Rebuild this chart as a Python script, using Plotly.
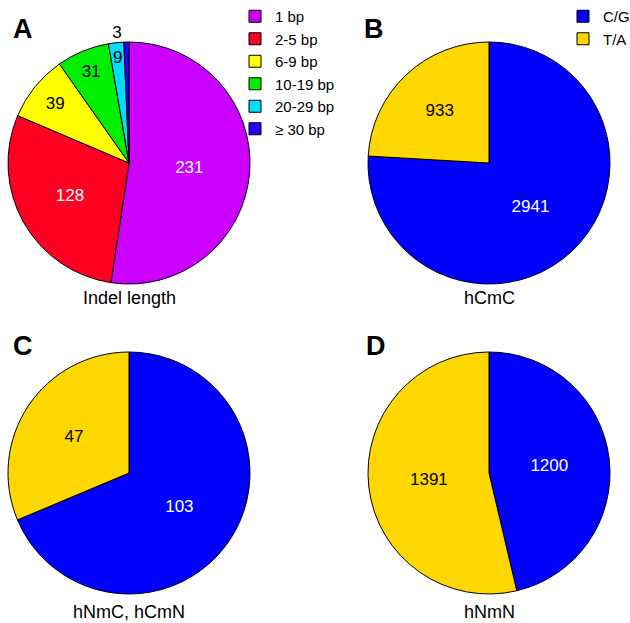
import math
import plotly.graph_objects as go

# Data
len_labels = ["1 bp", "2-5 bp", "6-9 bp", "10-19 bp", "20-29 bp", "\u2265 30 bp"]
len_values = [231, 128, 39, 31, 9, 3]
len_colors = ["#CC00FF", "#FF0022", "#FFFF00", "#00EE00", "#00DDFF", "#2200FF"]
len_textcolors = ["white", "white", "black", "black", "black", "black"]

base_labels = ["C/G", "T/A"]
base_colors = ["#0000FF", "#FFD700"]
base_textcolors = ["white", "black"]
hCmC_values = [2941, 933]
hNmC_values = [103, 47]
hNmN_values = [1200, 1391]

W, H = 630, 623
FONT = "Liberation Sans, Arial, sans-serif"
NUM_SIZE = 17
LEG_SIZE = 15

def dom_x(l, r):
    return [l / W, r / W]

def dom_y(t, b):
    return [1 - b / H, 1 - t / H]

fig = go.Figure()

# Panel A: the narrow "9" slice gets its label placed via annotation (from data angle)
small_idx = 4
tmpl_a = ["%{value}"] * len(len_values)
tmpl_a[small_idx] = ""
tpos_a = ["inside"] * len(len_values)
tpos_a[-1] = "outside"

A_box = (8, 250, 42, 284)
fig.add_trace(go.Pie(
    labels=len_labels, values=len_values, sort=False, direction="clockwise", rotation=0,
    marker=dict(colors=len_colors, line=dict(color="black", width=1)),
    texttemplate=tmpl_a, textposition=tpos_a,
    insidetextorientation="horizontal",
    textfont=dict(color=len_textcolors, size=NUM_SIZE, family=FONT),
    outsidetextfont=dict(color="black", size=NUM_SIZE, family=FONT),
    domain=dict(x=dom_x(A_box[0], A_box[1]), y=dom_y(A_box[2], A_box[3])),
    legend="legend", showlegend=True, hoverinfo="label+value",
))

tot = sum(len_values)
mid = (sum(len_values[:small_idx]) + len_values[small_idx] / 2) / tot * 2 * math.pi
cx, cy = (A_box[0] + A_box[1]) / 2, (A_box[2] + A_box[3]) / 2
R = (A_box[1] - A_box[0]) / 2
px, py = cx + 0.88 * R * math.sin(mid), cy - 0.88 * R * math.cos(mid)
fig.add_annotation(text=str(len_values[small_idx]), x=px / W, y=1 - py / H, xref="paper", yref="paper",
                   xanchor="center", yanchor="middle", showarrow=False,
                   font=dict(size=NUM_SIZE, family=FONT, color=len_textcolors[small_idx]))

for vals, (l, r), (t, b), show in [
    (hCmC_values, (368, 610), (42, 284), True),
    (hNmC_values, (8, 250), (352, 594), False),
    (hNmN_values, (368, 610), (352, 594), False),
]:
    fig.add_trace(go.Pie(
        labels=base_labels, values=vals, sort=False, direction="clockwise", rotation=0,
        marker=dict(colors=base_colors, line=dict(color="black", width=1)),
        textinfo="value", textposition="inside", insidetextorientation="horizontal",
        textfont=dict(color=base_textcolors, size=NUM_SIZE, family=FONT),
        domain=dict(x=dom_x(l, r), y=dom_y(t, b)),
        legend="legend2", showlegend=show, hoverinfo="label+value",
    ))

for txt, x, y in [("A", 11, 29), ("B", 362, 29), ("C", 11, 346), ("D", 364, 346)]:
    fig.add_annotation(text=f"<b>{txt}</b>", x=x / W, y=1 - y / H, xref="paper", yref="paper",
                       xanchor="left", yanchor="middle", showarrow=False,
                       font=dict(size=27, family=FONT, color="black"))

for txt, x, y in [("Indel length", 129, 298), ("hCmC", 489, 298),
                  ("hNmC, hCmN", 129, 612), ("hNmN", 489, 612)]:
    fig.add_annotation(text=txt, x=x / W, y=1 - y / H, xref="paper", yref="paper",
                       xanchor="center", yanchor="middle", showarrow=False,
                       font=dict(size=18, family=FONT, color="black"))

fig.update_layout(
    width=W, height=H, margin=dict(l=0, r=0, t=0, b=0, autoexpand=False), autosize=False,
    paper_bgcolor="white", plot_bgcolor="white",
    font=dict(family=FONT, size=LEG_SIZE, color="black"),
    legend=dict(x=235 / W, y=1 - 0 / H, xanchor="left", yanchor="top",
                font=dict(size=LEG_SIZE, family=FONT), bgcolor="rgba(0,0,0,0)",
                itemwidth=30, tracegroupgap=0),
    legend2=dict(x=563 / W, y=1 - 0 / H, xanchor="left", yanchor="top",
                 font=dict(size=LEG_SIZE, family=FONT), bgcolor="rgba(0,0,0,0)",
                 itemwidth=30, tracegroupgap=0),
)

post = ("document.body.style.margin='0px';document.body.style.overflow='hidden';"
        "var gd=document.getElementById('{plot_id}');Plotly.relayout(gd,{width:630,height:623});")
fig.write_html("out.html", config={"responsive": False, "displayModeBar": False}, post_script=post)
